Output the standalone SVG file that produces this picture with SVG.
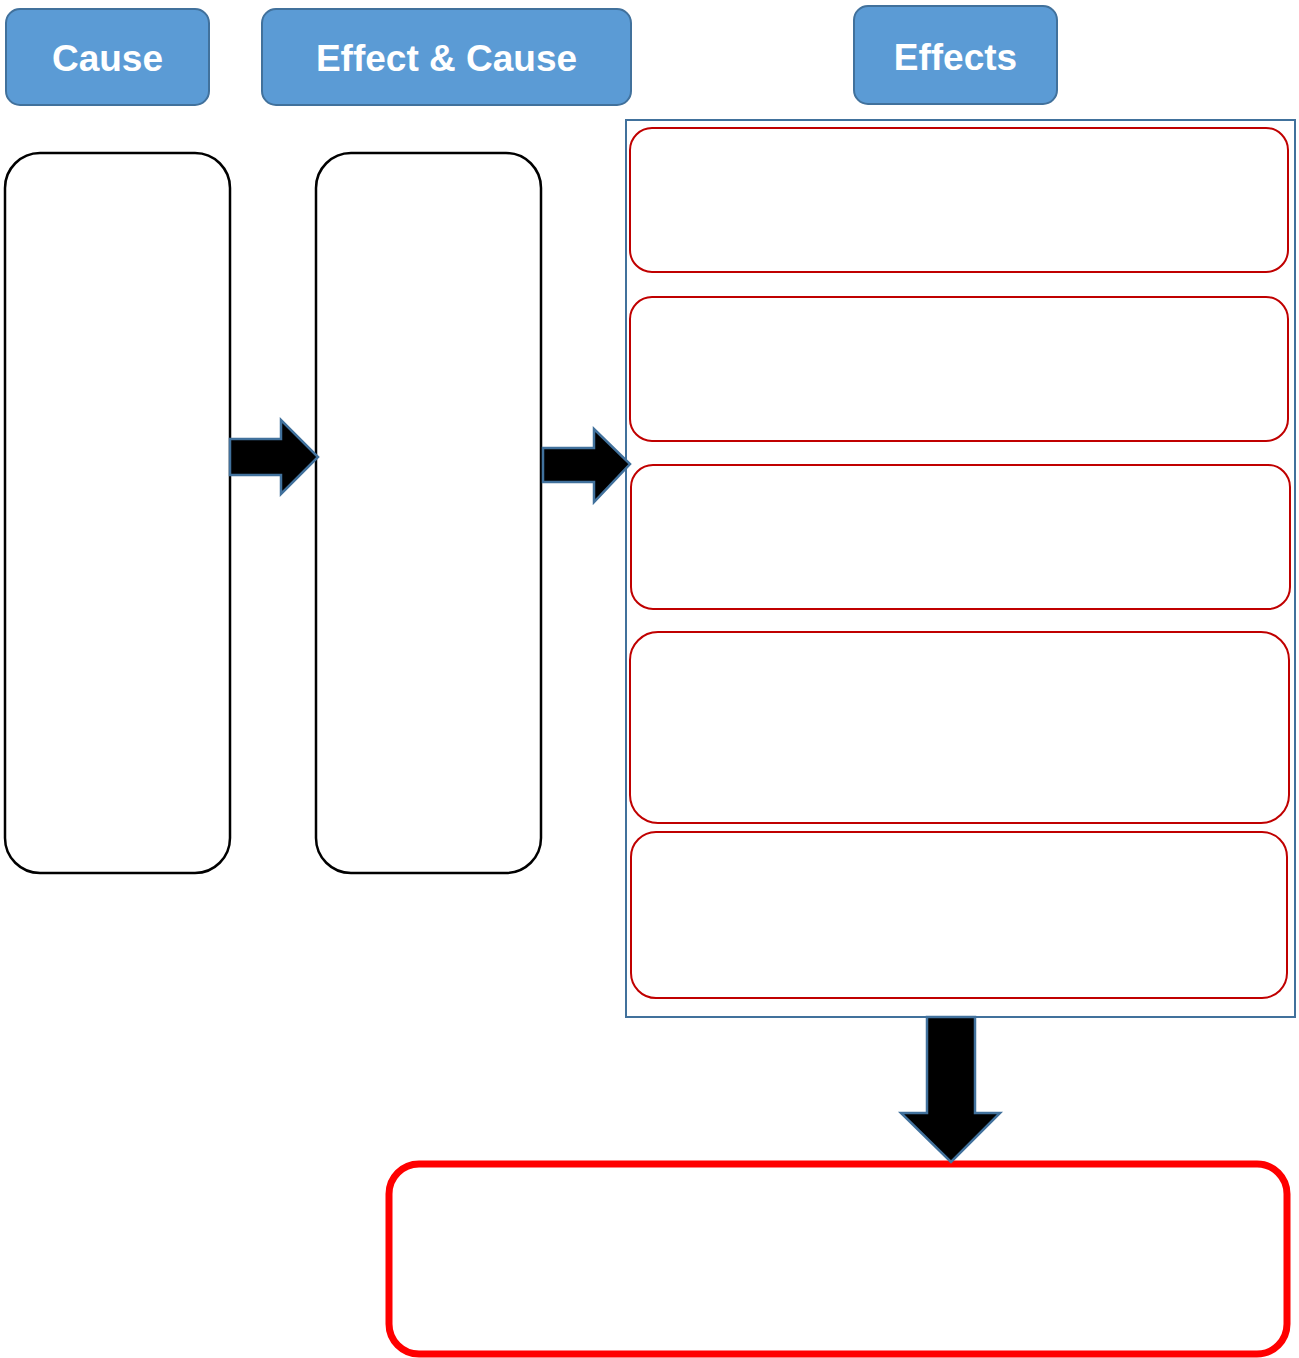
<svg xmlns="http://www.w3.org/2000/svg" width="1299" height="1358" viewBox="0 0 1299 1358">
<style>
.hdr{fill:#5B9BD5;stroke:#41719C;stroke-width:2}
.hdrt{fill:#FFFFFF;font-family:"Liberation Sans",Arial,sans-serif;font-weight:bold;font-size:37px;text-anchor:middle}
.col{fill:#FFFFFF;stroke:#000000;stroke-width:2.5}
.eff{fill:#FFFFFF;stroke:#C00000;stroke-width:2}
.arr{fill:#000000;stroke:#41719C;stroke-width:2.5;stroke-linejoin:miter}
</style>
<rect width="1299" height="1358" fill="#FFFFFF"/>
<g id="hdr-cause"><rect class="hdr" x="6" y="9" width="203" height="96" rx="14"/><text class="hdrt" x="107.5" y="71">Cause</text></g>
<g id="hdr-effect-cause"><rect class="hdr" x="262" y="9" width="369" height="96" rx="14"/><text class="hdrt" x="446.5" y="71">Effect &amp; Cause</text></g>
<g id="hdr-effects"><rect class="hdr" x="854" y="6" width="203" height="98" rx="14"/><text class="hdrt" x="955.5" y="70">Effects</text></g>
<g id="cause-box"><rect class="col" x="5" y="153" width="225" height="720" rx="35"/></g>
<g id="effect-cause-box"><rect class="col" x="316" y="153" width="225" height="720" rx="35"/></g>
<g id="effects-container"><rect x="626" y="120" width="669" height="897" fill="#FFFFFF" stroke="#41719C" stroke-width="2"/></g>
<g id="effect-1"><rect class="eff" x="630" y="128" width="658" height="144" rx="22"/></g>
<g id="effect-2"><rect class="eff" x="630" y="297" width="658" height="144" rx="22"/></g>
<g id="effect-3"><rect class="eff" x="631" y="465" width="659" height="144" rx="22"/></g>
<g id="effect-4"><rect class="eff" x="630" y="632" width="659" height="191" rx="28"/></g>
<g id="effect-5"><rect class="eff" x="631" y="832" width="656" height="166" rx="25"/></g>
<g id="result-box"><rect x="389" y="1164" width="898" height="190" rx="30" fill="#FFFFFF" stroke="#FF0000" stroke-width="7"/></g>
<g id="connectors">
<path class="arr" d="M230,439 H281 V420 L318,457 L281,494 V475 H230 Z"/>
<path class="arr" d="M543,448 H594 V429 L630,464 L594,502 V482 H543 Z"/>
<path class="arr" d="M927,1017 H975 V1113 H1000 L951,1162 L901,1113 H927 Z"/>
</g>
</svg>
